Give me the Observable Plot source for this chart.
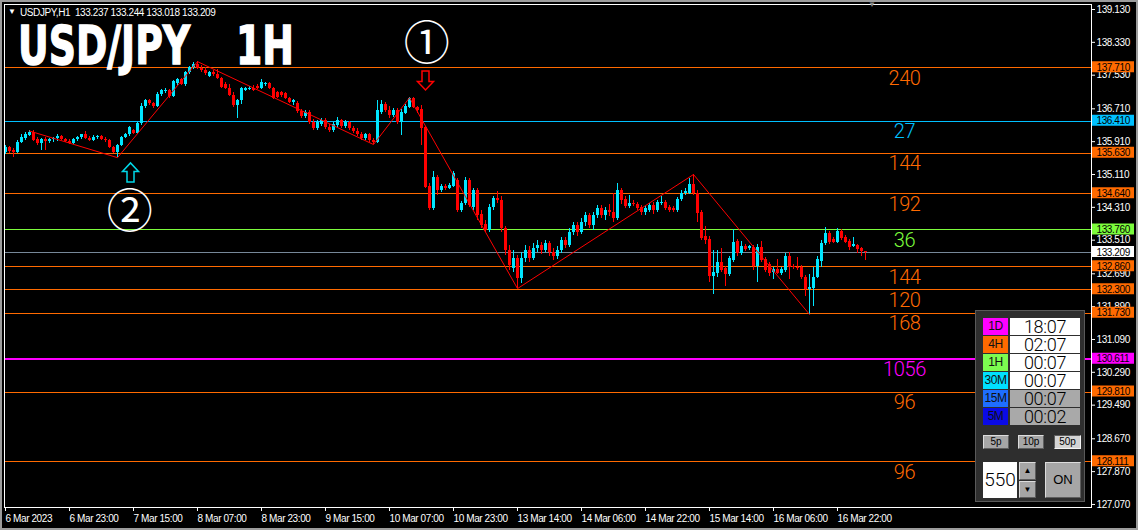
<!DOCTYPE html>
<html>
<head>
<meta charset="utf-8">
<script src="https://cdn.jsdelivr.net/npm/d3@7"></script>
<script src="https://cdn.jsdelivr.net/npm/@observablehq/plot@0.6"></script>
<style>
html, body { margin:0; padding:0; background:#000; }
#wrap { position:relative; width:1138px; height:530px; overflow:hidden; background:#000; font-family:"Liberation Sans", Arial, sans-serif; }
#wrap svg { position:absolute; left:0; top:0; }
#wrap svg text { letter-spacing:-0.4px; }
.ov { position:absolute; white-space:pre; }
.edge { position:absolute; left:0; top:0; width:1134px; height:526px; border:2px solid #9c9c9c; pointer-events:none; }
.title { position:absolute; top:19px; font-family:"DejaVu Sans", sans-serif; font-weight:bold; font-size:54px; line-height:54px; color:#fff; -webkit-text-stroke:1.4px #fff; transform:scaleX(0.70); transform-origin:0 0; white-space:pre; }
.hdr { position:absolute; top:8px; left:20px; font-size:10px; line-height:10px; color:#fff; letter-spacing:-0.4px; white-space:pre; }
.panel { position:absolute; left:975px; top:310px; width:108px; height:190px; background:#2e2e2e; border:1px solid #595959; }
.tf { position:absolute; left:983px; width:25px; height:17px; line-height:17px; text-align:center; font-size:12px; color:#111; letter-spacing:-0.5px; }
.tm { position:absolute; left:1010px; width:70px; height:17px; line-height:17px; text-align:center; font-family:Roboto, "Liberation Sans", sans-serif; font-weight:300; font-size:18px; color:#000; letter-spacing:-0.3px; }
.btn { position:absolute; box-sizing:border-box; background:#a6a6a6; border:1px solid; border-color:#dcdcdc #5e5e5e #5e5e5e #dcdcdc; text-align:center; color:#000; }
</style>
</head>
<body>
<div id="wrap"></div>
<script>
// ---------- DATA ----------
const open = [
135.65,135.77,135.70,135.65,135.89,135.99,136.06,136.14,135.96,135.87,
135.96,135.91,135.96,135.99,136.04,135.96,135.91,135.87,135.96,136.01,
136.08,135.99,135.94,136.01,136.04,135.96,135.94,135.77,135.65,135.82,
136.01,136.08,136.18,136.11,136.35,136.77,136.91,136.84,136.77,137.06,
137.14,137.16,137.01,137.33,137.42,137.30,137.59,137.72,137.79,137.69,
137.64,137.50,137.59,137.55,137.45,137.30,137.21,137.03,136.79,136.91,
137.16,137.18,137.21,137.25,137.21,137.30,137.33,137.21,137.11,137.11,
137.08,136.96,136.86,136.84,136.64,136.52,136.62,136.38,136.23,136.33,
136.43,136.25,136.18,136.30,136.43,136.28,136.38,136.23,136.16,136.08,
135.99,136.08,135.94,135.89,136.62,136.81,136.67,136.55,136.67,136.38,
136.60,136.74,136.96,136.74,136.69,136.25,134.82,134.28,135.04,134.72,
134.82,134.77,134.82,134.96,134.23,134.40,134.96,134.31,134.72,134.13,
133.89,133.75,134.31,134.52,134.48,133.79,133.26,132.82,133.06,132.57,
133.06,133.26,133.06,133.31,133.38,133.26,133.43,133.21,133.11,133.26,
133.50,133.38,133.70,133.87,133.70,133.94,134.11,133.87,134.11,134.28,
134.11,134.23,134.18,134.04,134.72,134.50,134.33,134.40,134.38,134.31,
134.18,134.23,134.35,134.23,134.40,134.43,134.31,134.28,134.23,134.50,
134.65,134.65,134.87,134.65,134.18,133.60,133.53,132.62,132.70,132.96,
132.82,132.67,133.01,133.48,133.18,133.36,133.31,133.33,132.87,133.33,
133.04,132.92,132.72,132.79,132.70,132.77,133.11,132.87,132.84,132.84,
132.60,132.31,132.33,132.60,132.99,133.43,133.67,133.53,133.45,133.72,
133.57,133.48,133.36,133.38,133.31,133.237];
const high = [
135.82,135.79,135.74,135.94,136.08,136.13,136.17,136.18,136.01,135.99,
136.01,135.99,136.01,136.08,136.06,135.99,135.96,135.99,136.04,136.08,
136.16,136.04,136.06,136.06,136.06,136.01,135.96,135.79,135.84,136.04,
136.11,136.28,136.21,136.38,136.84,136.94,136.94,136.86,137.11,137.18,
137.21,137.18,137.40,137.45,137.44,137.62,137.74,137.84,137.86,137.77,
137.72,137.62,137.64,137.67,137.47,137.35,137.30,137.11,136.94,137.23,
137.23,137.25,137.28,137.30,137.42,137.35,137.35,137.23,137.13,137.13,
137.11,136.98,136.94,136.89,136.69,136.67,136.67,136.45,136.43,136.47,
136.47,136.33,136.38,136.50,136.45,136.43,136.40,136.28,136.23,136.13,
136.11,136.11,135.99,136.91,136.91,136.86,136.77,136.72,136.72,136.69,
136.81,136.98,136.98,136.77,136.79,136.28,134.89,135.18,135.09,134.87,
134.87,134.89,135.18,135.01,134.45,135.04,135.01,134.77,134.77,134.23,
133.99,134.38,134.57,134.70,134.57,133.84,133.38,133.26,133.14,133.21,
133.38,133.36,133.43,133.50,133.45,133.50,133.48,133.31,133.36,133.57,
133.57,133.79,133.94,133.94,134.04,134.18,134.16,134.18,134.35,134.35,
134.31,134.38,134.65,134.89,134.77,134.57,134.60,134.48,134.43,134.35,
134.33,134.40,134.43,134.48,134.57,134.48,134.35,134.33,134.55,134.72,
134.77,135.01,135.11,134.72,134.23,133.84,133.60,133.26,133.26,133.31,
132.87,133.11,133.77,133.53,133.48,133.40,133.38,133.38,133.40,133.48,
133.09,132.96,132.84,133.04,132.84,133.18,133.21,132.92,133.09,132.89,
132.65,132.67,132.84,133.11,133.50,133.82,133.72,133.57,133.79,133.77,
133.62,133.53,133.57,133.40,133.33,133.244];
const low = [
135.60,135.62,135.52,135.62,135.87,135.94,136.04,135.91,135.82,135.69,
135.70,135.87,135.89,135.91,135.94,135.89,135.84,135.84,135.91,135.96,
135.96,135.91,135.91,135.96,135.94,135.89,135.74,135.62,135.52,135.79,
135.99,136.04,136.08,136.09,136.30,136.72,136.79,136.72,136.75,137.01,
137.08,136.96,136.99,137.28,137.28,137.25,137.55,137.67,137.67,137.59,
137.52,137.47,137.50,137.42,137.21,137.18,137.01,136.74,136.47,136.81,
137.13,137.16,137.13,137.18,137.19,137.25,137.18,136.94,136.96,136.98,
136.94,136.84,136.79,136.60,136.47,136.47,136.33,136.18,136.18,136.28,
136.21,136.13,136.13,136.25,136.23,136.23,136.18,136.11,136.04,135.94,
135.94,135.89,135.84,135.87,136.57,136.62,136.47,136.50,136.33,136.06,
136.57,136.72,136.72,136.60,135.82,134.77,134.23,134.23,134.60,134.67,
134.72,134.74,134.79,134.18,134.18,134.35,134.31,134.23,133.99,133.79,
133.70,133.70,134.23,134.40,133.70,133.14,132.77,132.72,132.33,132.45,
132.96,132.96,133.01,133.21,133.16,133.21,133.11,133.01,133.04,133.18,
133.31,133.33,133.62,133.60,133.65,133.84,133.79,133.75,134.04,134.04,
133.99,134.09,133.94,133.99,134.38,134.28,134.28,134.33,134.23,134.11,
134.11,134.18,134.13,134.18,134.35,134.23,134.18,134.18,134.18,134.45,
134.60,134.62,134.60,133.94,133.50,133.40,132.48,132.18,132.60,132.72,
132.38,132.62,132.96,133.11,133.14,133.23,133.26,132.77,132.48,132.96,
132.72,132.62,132.55,132.67,132.65,132.72,132.55,132.79,132.77,132.55,
132.14,131.70,131.89,132.57,132.84,133.38,133.40,133.43,133.43,133.50,
133.43,133.26,133.33,133.18,133.11,133.018];
const close = [
135.77,135.67,135.65,135.89,136.01,136.08,136.14,135.94,135.87,135.96,
135.91,135.96,135.99,136.04,135.96,135.91,135.87,135.96,136.01,136.08,
135.99,135.94,136.01,136.04,135.96,135.94,135.77,135.65,135.82,136.01,
136.08,136.25,136.11,136.35,136.77,136.91,136.84,136.77,137.06,137.16,
137.16,137.01,137.38,137.42,137.30,137.59,137.72,137.79,137.69,137.64,
137.57,137.59,137.55,137.45,137.23,137.21,137.03,136.79,136.91,137.21,
137.21,137.21,137.16,137.21,137.35,137.33,137.21,136.96,136.98,137.03,
136.96,136.86,136.91,136.64,136.52,136.62,136.38,136.23,136.38,136.43,
136.25,136.18,136.33,136.43,136.28,136.38,136.23,136.16,136.08,135.99,
136.08,135.94,135.89,136.67,136.81,136.67,136.55,136.67,136.38,136.62,
136.77,136.96,136.74,136.67,136.23,134.79,134.28,135.04,134.72,134.82,
134.77,134.84,135.13,134.23,134.40,134.96,134.35,134.72,134.11,133.87,
133.75,134.31,134.52,134.48,133.79,133.26,132.89,133.06,132.57,133.06,
133.26,133.06,133.31,133.38,133.26,133.43,133.21,133.11,133.26,133.50,
133.38,133.70,133.87,133.70,133.94,134.11,133.87,134.11,134.28,134.11,
134.23,134.18,134.04,134.72,134.48,134.33,134.40,134.38,134.28,134.18,
134.28,134.35,134.23,134.43,134.43,134.28,134.23,134.23,134.50,134.65,
134.70,134.87,134.65,134.16,133.55,133.50,132.62,132.72,132.96,132.77,
132.67,133.06,133.45,133.18,133.36,133.28,133.36,132.87,133.33,133.01,
132.77,132.70,132.79,132.70,132.79,133.11,132.84,132.84,132.82,132.60,
132.31,132.36,132.60,133.04,133.43,133.67,133.45,133.45,133.72,133.55,
133.45,133.33,133.40,133.28,133.24,133.209];

const zigIndex = [6, 28, 48, 92, 101, 128, 172, 201];
const zigPrice = [136.17, 135.52, 137.86, 135.84, 136.98, 132.33, 135.11, 131.70];

const levelPrice = [137.710, 136.410, 135.630, 134.640, 133.760, 132.860, 132.300, 131.730, 130.611, 129.810, 128.111];
const levelLabel = ["240", "27", "144", "192", "36", "144", "120", "168", "1056", "96", "96"];
const currentPrice = 133.209;

const yTicks = [139.13, 138.33, 137.53, 136.71, 135.91, 135.11, 134.31, 133.51, 132.69, 131.89, 131.09, 130.29, 129.49, 128.67, 127.87, 127.07];
const xTickIndex = [0, 16, 32, 48, 64, 80, 96, 112, 128, 144, 160, 176, 192, 208];
const xTickLabel = ["6 Mar 2023", "6 Mar 23:00", "7 Mar 15:00", "8 Mar 07:00", "8 Mar 23:00", "9 Mar 15:00", "10 Mar 07:00", "10 Mar 23:00", "13 Mar 14:00", "14 Mar 06:00", "14 Mar 22:00", "15 Mar 14:00", "16 Mar 06:00", "16 Mar 22:00"];

const circledLabel = ["①", "②"];
const circledIndex = [105.25, 31];
const circledPrice = [138.35, 134.26];
const arrowDir = ["down", "up"];
const arrowIndex = [105, 31.25];
const arrowPrice = [137.40, 135.16];

const tfLabels = ["1D", "4H", "1H", "30M", "15M", "5M"];
const tfTimes = ["18:07", "02:07", "00:07", "00:07", "00:07", "00:02"];
const header = "USDJPY,H1  133.237 133.244 133.018 133.209";

// ---------- STYLES ----------
const ORANGE = "#ff6a00", CYANL = "#00c0ff", GREEN = "#7cfc3c", MAGENTA = "#ff00ff";
const levelStroke = [ORANGE, CYANL, ORANGE, ORANGE, GREEN, ORANGE, ORANGE, ORANGE, MAGENTA, ORANGE, ORANGE];
const levelWidth = [1, 1, 1, 1, 1, 1, 1, 1, 2, 1, 1];
const tfColors = ["#ff00ff", "#ff6a00", "#7cfc50", "#00e0ff", "#1e6eff", "#0a0ae6"];
const tfBg = ["#ffffff", "#ffffff", "#ffffff", "#ffffff", "#a9a9a9", "#a9a9a9"];
const BULL = "#00e6ff", BEAR = "#ff0000";

// ---------- BUILD ----------
const candles = open.map((o, k) => ({i: k, open: o, high: high[k], low: low[k], close: close[k]}));
const zig = zigIndex.map((i, k) => ({i, price: zigPrice[k]}));
const levels = levelPrice.map((p, k) => ({price: p, label: levelLabel[k]}));
const circled = circledLabel.map((t, k) => ({text: t, i: circledIndex[k], price: circledPrice[k]}));
const arrows = arrowDir.map((d, k) => ({dir: d, i: arrowIndex[k], price: arrowPrice[k]}));
const candleColor = d => d.close >= d.open ? BULL : BEAR;

const arrowDown = {draw(ctx, size) {
  const s = Math.sqrt(size / Math.PI) / 10;
  ctx.moveTo(-3.5 * s, -9.5 * s); ctx.lineTo(3.5 * s, -9.5 * s); ctx.lineTo(3.5 * s, 1 * s);
  ctx.lineTo(8 * s, 1 * s); ctx.lineTo(0, 9.5 * s); ctx.lineTo(-8 * s, 1 * s); ctx.lineTo(-3.5 * s, 1 * s); ctx.closePath();
}};
const arrowUp = {draw(ctx, size) {
  const s = Math.sqrt(size / Math.PI) / 10;
  ctx.moveTo(-3.5 * s, 9.5 * s); ctx.lineTo(3.5 * s, 9.5 * s); ctx.lineTo(3.5 * s, -1 * s);
  ctx.lineTo(8 * s, -1 * s); ctx.lineTo(0, -9.5 * s); ctx.lineTo(-8 * s, -1 * s); ctx.lineTo(-3.5 * s, -1 * s); ctx.closePath();
}};

const chart = Plot.plot({
  width: 1138, height: 530,
  marginLeft: 4, marginRight: 47, marginTop: 4, marginBottom: 23,
  style: {background: "#000", color: "#fff", fontFamily: '"Liberation Sans", Arial, sans-serif', fontSize: "10px"},
  x: {domain: [-0.25, 271.5], ticks: xTickIndex, tickFormat: t => xTickLabel[xTickIndex.indexOf(t)], tickSize: 4, tickPadding: 3, label: null},
  y: {domain: [126.996, 139.252], axis: "right", ticks: yTicks, tickFormat: t => t.toFixed(3), tickSize: 3, tickPadding: 2, label: null},
  color: {type: "identity"},
  marks: [
    Plot.ruleY(levels, {y: "price", stroke: (d, k) => levelStroke[k], strokeWidth: (d, k) => levelWidth[k], shapeRendering: "crispEdges"}),
    Plot.ruleY([currentPrice], {y: d => d, stroke: "#778899", shapeRendering: "crispEdges"}),
    Plot.ruleX(candles, {x: "i", y1: "low", y2: "high", stroke: candleColor, shapeRendering: "crispEdges"}),
    Plot.ruleX(candles, {x: "i", y1: "open", y2: "close", stroke: candleColor, strokeWidth: 3, shapeRendering: "crispEdges"}),
    Plot.line(zig, {x: "i", y: "price", stroke: "#ff0000", strokeWidth: 1}),
    Plot.text(levels, {y: "price", text: "label", frameAnchor: "left", textAnchor: "middle", dx: 900, dy: 3, lineAnchor: "top", fill: (d, k) => levelStroke[k], fontSize: 20, fontFamily: 'Roboto, "Liberation Sans", sans-serif', fontWeight: 300}),
    Plot.ruleY(levels, {y: "price", x1: () => 271.75, x2: () => 282.25, stroke: (d, k) => levelStroke[k], strokeWidth: 11, dy: -1}),
    Plot.ruleY([currentPrice], {y: d => d, x1: () => 271.75, x2: () => 282.25, stroke: "#ffffff", strokeWidth: 11, dy: -1}),
    Plot.text(levels, {y: "price", text: d => d.price.toFixed(3), frameAnchor: "right", dx: 5, textAnchor: "start", fill: "#000"}),
    Plot.text([currentPrice], {y: d => d, text: d => d.toFixed(3), frameAnchor: "right", dx: 5, textAnchor: "start", fill: "#000"}),
    Plot.text(circled, {x: "i", y: "price", text: "text", fill: "#fff", fontSize: 46, fontFamily: '"Noto Sans CJK JP", sans-serif', dy: 3}),
    Plot.dot(arrows.filter(d => d.dir === "down"), {x: "i", y: "price", r: 10, symbol: arrowDown, stroke: "#ff0000", fill: "none", strokeWidth: 1.5}),
    Plot.dot(arrows.filter(d => d.dir === "up"), {x: "i", y: "price", r: 10, symbol: arrowUp, stroke: "#00d8e8", fill: "none", strokeWidth: 1.5}),
    Plot.frame({stroke: "#fff", shapeRendering: "crispEdges"})
  ]
});

d3.select(chart).selectAll('g[aria-label^="x-axis"] text').attr("text-anchor", "start");

const wrap = document.getElementById("wrap");
wrap.appendChild(chart);
function add(html) { wrap.insertAdjacentHTML("beforeend", html); }

// header, title, marker
add(`<div class="ov" style="left:8px;top:7px;font-size:8px;line-height:10px;color:#fff">▼</div>`);
add(`<div class="hdr">${header}</div>`);
add(`<div class="title" style="left:18px">USD/JPY</div>`);
add(`<div class="title" style="left:236px">1H</div>`);
add(`<div class="ov" style="left:868px;top:1px;font-size:8px;line-height:8px;color:#8a8a8a">▼</div>`);

// panel
add(`<div class="panel"></div>`);
tfLabels.forEach((lab, k) => {
  const top = 318 + 18 * k;
  add(`<div class="tf" style="top:${top}px;background:${tfColors[k]}">${lab}</div>`);
  add(`<div class="tm" style="top:${top}px;background:${tfBg[k]}">${tfTimes[k]}</div>`);
});
add(`<div class="btn" style="left:983px;top:435px;width:26px;height:14px;font-size:10px;line-height:12px">5p</div>`);
add(`<div class="btn" style="left:1018px;top:435px;width:26px;height:14px;font-size:10px;line-height:12px">10p</div>`);
add(`<div class="btn" style="left:1054px;top:435px;width:27px;height:14px;font-size:10px;line-height:12px;background:#d4d4d4;border-color:#5e5e5e #f4f4f4 #f4f4f4 #5e5e5e">50p</div>`);
add(`<div class="ov" style="left:983px;top:462px;width:34px;height:36px;background:#fff;color:#000;font-family:Roboto,'Liberation Sans',sans-serif;font-weight:300;font-size:19px;line-height:36px;text-align:center">550</div>`);
add(`<div class="btn" style="left:1019px;top:462px;width:17px;height:18px;font-size:8px;line-height:16px">▲</div>`);
add(`<div class="btn" style="left:1019px;top:481px;width:17px;height:17px;font-size:8px;line-height:15px">▼</div>`);
add(`<div class="btn" style="left:1045px;top:462px;width:36px;height:36px;font-size:13px;line-height:34px">ON</div>`);

add(`<div class="edge"></div>`);
</script>
</body>
</html>
